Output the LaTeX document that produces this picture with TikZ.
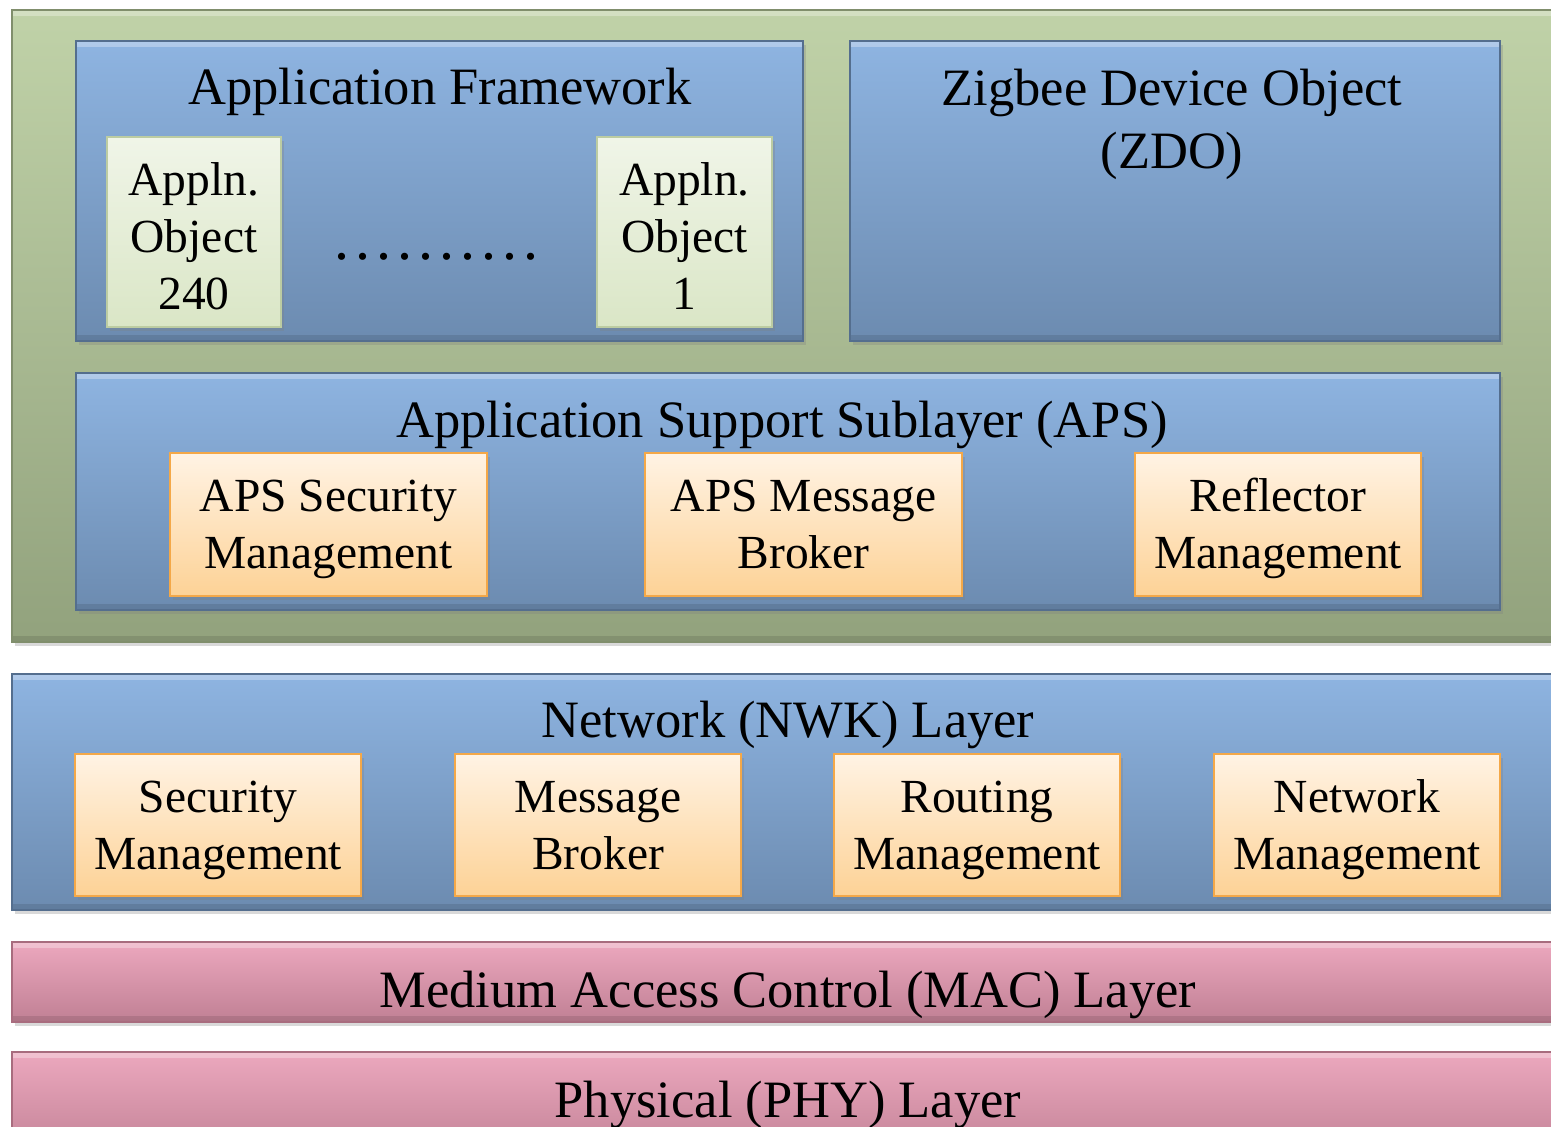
\documentclass[tikz,border=0pt]{standalone}
\usepackage{fontspec}
\setmainfont{Liberation Serif}
\usetikzlibrary{shadows}
\definecolor{bluetop}{RGB}{142,180,225}
\definecolor{bluebot}{RGB}{108,139,176}
\definecolor{blueline}{RGB}{84,110,142}
\definecolor{greentop}{RGB}{192,210,168}
\definecolor{greenbot}{RGB}{146,162,125}
\definecolor{greenline}{RGB}{128,142,108}
\definecolor{pinktop}{RGB}{236,168,190}
\definecolor{pinkbot}{RGB}{192,128,148}
\definecolor{pinkline}{RGB}{168,108,126}
\definecolor{orangetop}{RGB}{255,243,228}
\definecolor{orangebot}{RGB}{253,210,150}
\definecolor{orangeline}{RGB}{244,168,72}
\definecolor{lgreentop}{RGB}{240,245,232}
\definecolor{lgreenbot}{RGB}{218,230,198}
\definecolor{lgreenline}{RGB}{188,204,162}
\newcommand\titlesize{\fontsize{52.5}{63}\selectfont}
\newcommand\boxsize{\fontsize{47.5}{57}\selectfont}
\def\Block at (#1,#2) to (#3,#4) [#5] #6 #7;{
    \path[#5] (#1,#2) rectangle (#3,#4);
    \node[boxtext] (#6) at ({(#1+#3)/2},#2+18) {\strut#7};
}
\tikzset{
    shade/.style={drop shadow={shadow xshift=3pt,shadow yshift=-4pt,opacity=0.3}},
    bevel/.style={path picture={
        \fill[white,opacity=0.3] (path picture bounding box.north west) rectangle ([yshift=-6pt]path picture bounding box.north east);
        \fill[black,opacity=0.1] (path picture bounding box.south west) rectangle ([yshift=6pt]path picture bounding box.south east);
    }},
    stackbox/.style={shade,bevel,draw=greenline,line width=1.2pt,top color=greentop,bottom color=greenbot},
    layerbox/.style={shade,bevel,draw=blueline,line width=1.2pt,top color=bluetop,bottom color=bluebot},
    radiobox/.style={shade,bevel,draw=pinkline,line width=1.2pt,top color=pinktop,bottom color=pinkbot},
    unitbox/.style={shade,draw=orangeline,line width=1.5pt,top color=orangetop,bottom color=orangebot},
    objbox/.style={shade,draw=lgreenline,line width=1.2pt,top color=lgreentop,bottom color=lgreenbot},
    boxtext/.style={anchor=north,align=center,inner sep=0pt,font=\boxsize},
    title/.style={anchor=base,inner sep=0pt,font=\titlesize},
}
\begin{document}
\begin{tikzpicture}[x=1pt,y=-1pt]
    \useasboundingbox (0,0) rectangle (1551,1127);
    \clip (0,0) rectangle (1551,1127);
    % application layer
    \path[stackbox] (12,10) rectangle (1580,642);
    \path[layerbox] (76,41) rectangle (803,341);
    \node[title] (af) at (440,104) {Application Framework};
    \Block at (107,137) to (281,327) [objbox] objA {Appln.\\Object\\240};
    \Block at (597,137) to (772,327) [objbox] objB {Appln.\\Object\\1};
    \node[anchor=base,inner sep=0pt,font=\fontsize{60}{70}\selectfont] (dots) at (436,259) {.\kern6pt.\kern6pt.\kern6pt.\kern6pt.\kern6pt.\kern6pt.\kern6pt.\kern6pt.\kern6pt.};
    \path[layerbox] (850,41) rectangle (1500,341);
    \node[font=\titlesize,align=center,inner sep=0pt] (zdo) at (1172,124) {Zigbee Device Object\\(ZDO)};
    \path[layerbox] (76,373) rectangle (1500,610);
    \node[title] (aps) at (782,437) {Application Support Sublayer (APS)};
    \Block at (170,453) to (487,596) [unitbox] apsSec {APS Security\\Management};
    \Block at (645,453) to (962,596) [unitbox] apsMsg {APS Message\\Broker};
    \Block at (1135,453) to (1421,596) [unitbox] apsRefl {Reflector\\Management};
    % network layer
    \path[layerbox] (12,674) rectangle (1580,910);
    \node[title] (nwk) at (788,737) {Network (NWK) Layer};
    \Block at (75,754) to (361,896) [unitbox] nwkSec {Security\\Management};
    \Block at (455,754) to (741,896) [unitbox] nwkMsg {Message\\Broker};
    \Block at (834,754) to (1120,896) [unitbox] nwkRout {Routing\\Management};
    \Block at (1214,754) to (1500,896) [unitbox] nwkMgmt {Network\\Management};
    % mac and phy
    \path[radiobox] (12,942) rectangle (1580,1022);
    \node[title] (mac) at (788,1007) {Medium Access Control (MAC) Layer};
    \path[radiobox] (12,1052) rectangle (1580,1160);
    \node[title] (phy) at (788,1117) {Physical (PHY) Layer};
\end{tikzpicture}
\end{document}
